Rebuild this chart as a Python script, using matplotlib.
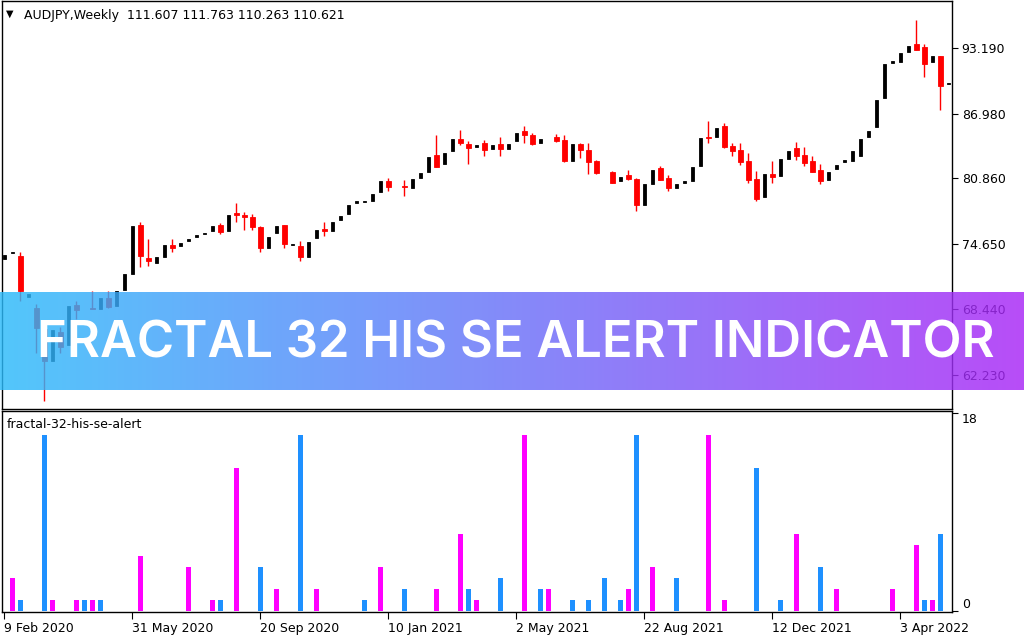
import numpy as np
import pandas as pd
import matplotlib
matplotlib.use('Agg')
import matplotlib.pyplot as plt

# weekly AUDJPY candles, first week = 9 Feb 2020
opens = [73.25, 73.82, 73.54, 69.62, 68.54, 66.60, 63.51, 66.25, 65.03, 68.83,
         68.40, 68.61, 68.51, 69.52, 68.78, 70.26, 71.79, 76.47, 73.35, 72.87,
         73.44, 74.56, 74.40, 74.88, 75.26, 75.54, 75.83, 76.47, 75.83, 77.62,
         77.43, 77.24, 76.28, 74.30, 75.64, 76.47, 74.56, 74.46, 73.44, 75.16,
         76.09, 75.83, 76.88, 77.46, 78.51, 78.60, 78.70, 79.56, 80.58, 80.05,
         80.10, 79.91, 80.87, 81.44, 83.06, 82.20, 83.44, 84.59, 84.11, 83.83,
         84.21, 83.64, 84.11, 83.64, 84.40, 85.36, 84.97, 84.21, 84.60, 84.78,
         84.50, 82.49, 84.11, 83.54, 82.49, 81.40, 81.44, 80.58, 81.15, 80.77,
         78.29, 80.29, 81.82, 80.87, 79.91, 80.39, 80.58, 82.01, 84.78, 84.78,
         85.83, 83.92, 83.54, 82.49, 80.77, 79.05, 81.25, 81.06, 82.68, 83.73,
         83.06, 82.49, 81.63, 80.67, 81.72, 82.39, 82.49, 82.97, 84.78, 85.74,
         88.44, 91.82, 91.88, 92.84, 93.60, 93.29, 91.85, 92.45, 89.78]
highs = [73.63, 73.89, 73.89, 69.88, 68.99, 67.00, 66.44, 66.73, 68.73, 69.21,
         68.40, 70.16, 69.54, 70.16, 70.21, 71.79, 76.31, 76.76, 75.13, 73.44,
         74.56, 75.13, 74.75, 75.13, 75.52, 75.71, 76.37, 76.66, 77.43, 78.48,
         77.71, 77.52, 76.37, 75.32, 76.37, 76.47, 74.66, 74.94, 74.85, 76.00,
         76.76, 76.76, 77.33, 78.29, 78.67, 78.70, 79.34, 80.58, 80.87, 80.05,
         80.67, 80.77, 81.34, 82.87, 84.97, 83.25, 84.59, 85.45, 84.40, 84.02,
         84.50, 84.02, 84.78, 84.11, 85.16, 85.83, 85.16, 84.59, 84.60, 85.07,
         84.97, 84.11, 84.21, 84.21, 82.59, 81.40, 81.53, 80.96, 81.63, 80.87,
         80.29, 81.63, 82.01, 81.15, 80.29, 80.58, 81.92, 84.69, 86.31, 85.64,
         86.12, 84.21, 84.21, 83.25, 81.53, 81.25, 82.49, 82.68, 83.44, 84.30,
         83.83, 82.97, 82.20, 81.44, 82.11, 82.59, 83.44, 84.59, 85.36, 88.32,
         91.66, 91.98, 92.71, 93.38, 95.89, 93.57, 92.45, 92.45, 89.94]
lows = [73.25, 73.82, 69.24, 69.62, 64.27, 59.75, 63.51, 64.27, 65.03, 67.52,
        68.40, 68.45, 68.51, 68.54, 68.78, 70.26, 71.79, 72.49, 72.58, 72.87,
        73.44, 73.92, 74.40, 74.88, 75.26, 75.54, 75.83, 75.54, 75.83, 76.69,
        76.00, 75.93, 73.92, 74.30, 75.64, 74.21, 74.56, 73.06, 73.44, 75.16,
        75.35, 75.83, 76.88, 77.46, 78.51, 78.60, 78.70, 79.56, 79.65, 80.05,
        79.17, 79.91, 80.87, 81.44, 81.92, 82.20, 83.44, 84.02, 82.20, 83.83,
        82.97, 83.64, 82.97, 83.64, 84.40, 84.21, 84.02, 84.21, 84.60, 84.30,
        82.39, 82.49, 82.78, 81.25, 81.25, 81.40, 80.39, 80.58, 80.67, 77.81,
        78.29, 80.29, 80.67, 79.62, 79.91, 80.39, 80.58, 82.01, 84.21, 84.78,
        83.73, 82.97, 82.11, 80.39, 78.67, 79.05, 80.39, 81.06, 82.68, 82.59,
        82.01, 81.44, 80.29, 80.67, 81.72, 82.39, 82.49, 82.97, 84.78, 85.74,
        88.44, 91.82, 91.88, 92.84, 93.03, 90.45, 91.85, 87.30, 89.78]
closes = [73.63, 73.89, 70.16, 69.88, 66.70, 63.50, 66.44, 64.84, 68.73, 68.35,
          68.40, 68.48, 69.54, 68.66, 70.21, 71.79, 76.31, 73.54, 73.06, 73.44,
          74.56, 74.21, 74.75, 75.13, 75.52, 75.71, 76.37, 75.74, 77.43, 77.43,
          77.17, 76.21, 74.21, 75.32, 76.37, 74.59, 74.66, 73.44, 74.85, 76.00,
          75.83, 76.76, 77.33, 78.29, 78.67, 78.70, 79.34, 80.58, 80.03, 80.05,
          80.03, 80.77, 81.34, 82.87, 81.92, 83.25, 84.59, 84.21, 83.73, 84.02,
          83.54, 84.02, 83.64, 84.11, 85.16, 84.97, 84.11, 84.59, 84.60, 84.40,
          82.49, 84.11, 83.54, 82.39, 81.34, 81.40, 80.39, 80.96, 80.77, 78.29,
          80.29, 81.63, 80.67, 79.91, 80.29, 80.58, 81.92, 84.69, 84.69, 85.64,
          83.83, 83.44, 82.39, 80.67, 78.86, 81.25, 80.96, 82.68, 83.44, 82.97,
          82.30, 81.44, 80.58, 81.44, 82.11, 82.59, 83.44, 84.59, 85.36, 88.32,
          91.66, 91.98, 92.71, 93.38, 93.03, 91.69, 92.45, 89.59, 89.94]

# indicator histogram: bar index -> value
magenta_idx = [1, 6, 9, 11, 17, 23, 26, 29, 34, 39, 47, 54, 57, 59, 65, 68, 78, 81,
               88, 90, 99, 104, 111, 114, 116]
magenta_val = [3, 1, 1, 1, 5, 4, 1, 13, 2, 2, 4, 2, 7, 1, 16, 2, 2, 4,
               16, 1, 7, 2, 2, 6, 1]
blue_idx = [2, 5, 10, 12, 27, 32, 37, 45, 50, 58, 62, 67, 71, 73, 75, 77, 79, 84,
            94, 97, 102, 115, 117]
blue_val = [1, 16, 1, 1, 1, 4, 16, 1, 2, 2, 3, 2, 1, 1, 3, 1, 16, 3,
            13, 1, 4, 1, 7]

price_ticks = [93.19, 86.98, 80.86, 74.65, 68.44, 62.23]
dates = pd.date_range('2020-02-09', periods=len(opens), freq='7D')

W, H = 1024, 640
fig = plt.figure(figsize=(W / 100, H / 100), dpi=100)
plt.rcParams['font.family'] = ['DejaVu Sans']

def frac(x0, y0, x1, y1):
    return [x0 / W, 1 - y1 / H, (x1 - x0) / W, (y1 - y0) / H]

# ---- price panel
ax = fig.add_axes(frac(2, 1, 952, 409))
x = np.arange(len(opens))
o, hi, lo, c = map(np.array, (opens, highs, lows, closes))
bear = c < o
bull = c > o
ax.vlines(x[bear], lo[bear], hi[bear], color='red', lw=1)
ax.bar(x[bear], (o - c)[bear], bottom=c[bear], width=0.625, color='red',
       edgecolor='red', linewidth=0.6)
ax.bar(x[bull], (c - o)[bull], bottom=o[bull], width=0.375, color='black',
       edgecolor='black', linewidth=0.6)
ax.set_xlim(-0.25, 118.5)
ax.set_ylim(58.99, 97.68)
ax.set_xticks([])
ax.yaxis.tick_right()
ax.set_yticks(price_ticks)
ax.set_yticklabels(['%.3f' % v for v in price_ticks])
ax.tick_params(axis='y', direction='out', length=4, labelsize=9, pad=3)
for s in ax.spines.values():
    s.set_linewidth(1)

# ---- indicator panel
ax2 = fig.add_axes(frac(2, 411, 952, 612))
ax2.bar(magenta_idx, magenta_val, width=0.625, color='#ff00ff')
ax2.bar(blue_idx, blue_val, width=0.625, color='#1e90ff')
ax2.set_xlim(-0.25, 118.5)
ax2.set_ylim(-0.09, 18.18)
ax2.yaxis.tick_right()
ax2.set_yticks([0, 18])
ax2.set_yticklabels(['0', '18'])
ax2.tick_params(axis='y', direction='out', length=4, labelsize=9, pad=3)
labs = ax2.get_yticklabels()
labs[0].set_va('bottom')
labs[1].set_va('top')
tick_pos = list(range(0, len(opens), 16))
ax2.set_xticks(tick_pos)
ax2.set_xticklabels(['%d %s' % (dates[i].day, dates[i].strftime('%b %Y')) for i in tick_pos],
                    ha='left')
ax2.tick_params(axis='x', direction='out', length=5, labelsize=9, pad=2)
for s in ax2.spines.values():
    s.set_linewidth(1)

fig.text(6 / W, 1 - 14 / H, '\u25bc', fontsize=7, va='center')
fig.text(24 / W, 1 - 15 / H, 'AUDJPY,Weekly  111.607 111.763 110.263 110.621',
         fontsize=9, va='center')
fig.text(7 / W, 1 - 425 / H, 'fractal-32-his-se-alert', fontsize=9, va='center')

# ---- banner (semi-transparent gradient over the chart)
bax = fig.add_axes(frac(0, 292, 1024, 390), zorder=10)
left = np.array([44, 187, 251]) / 255
right = np.array([168, 38, 246]) / 255
t = np.linspace(0, 1, 512)[None, :, None]
grad = left * (1 - t) + right * t
bax.imshow(grad, aspect='auto', extent=[0, 1, 0, 1], alpha=0.82)
bax.set_xlim(0, 1)
bax.set_ylim(0, 1)
bax.set_axis_off()
bax.text(0.504, (390 - 357) / 98, 'FRACTAL 32 HIS SE ALERT INDICATOR', ha='center',
         va='baseline', color='white', fontsize=36.5, fontfamily='Inter',
         fontweight='semibold')

fig.savefig('out.png', dpi=100)
